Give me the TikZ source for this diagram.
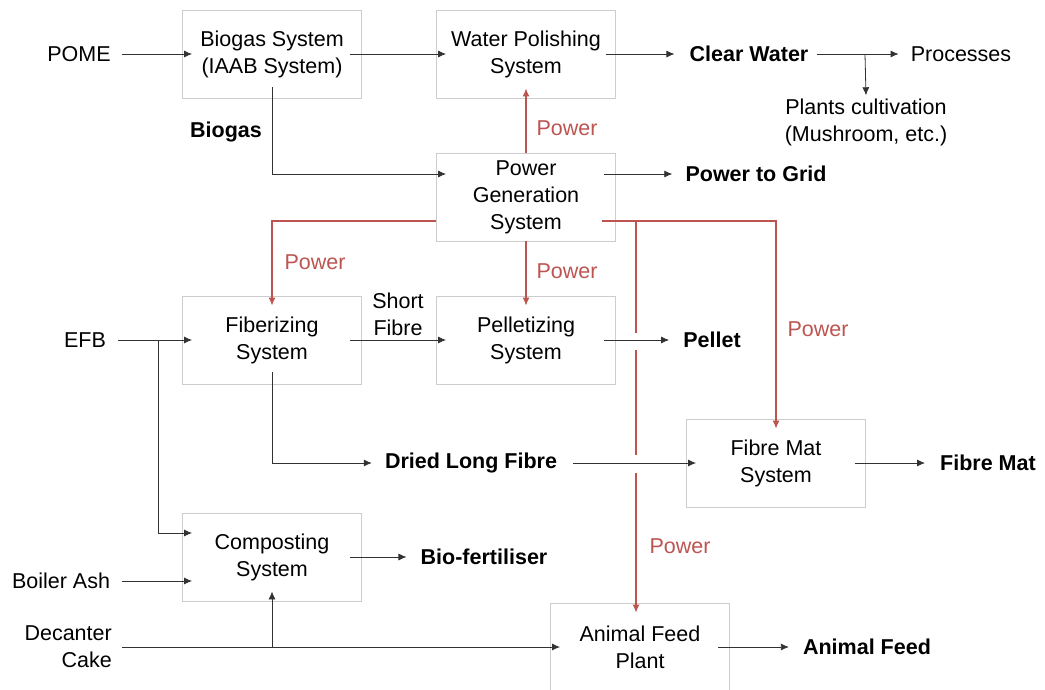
\documentclass[tikz,border=0pt]{standalone}
\usepackage{fontspec}
\setmainfont{Liberation Sans}
\usetikzlibrary{arrows.meta}
\definecolor{pwr}{RGB}{188,84,80}
\definecolor{boxc}{RGB}{205,205,205}
\definecolor{ln}{RGB}{50,50,50}
\begin{document}
\begin{tikzpicture}[x=1pt,y=-1pt,
  every node/.style={font=\fontsize{21.5}{27}\selectfont, align=center, inner sep=0pt},
  sys/.style={draw=boxc, line width=0.9pt, minimum width=179pt, minimum height=88pt},
  outl/.style={font=\fontsize{21.5}{27}\selectfont\bfseries},
  pwt/.style={text=pwr},
  flow/.style={draw=ln, line width=0.8pt, -{Latex[length=8pt,width=7pt]}},
  into/.style={shorten >=-10pt},
  pw/.style={draw=pwr, line width=1.1pt, -{Latex[length=8pt,width=7pt]}},
  pwl/.style={draw=pwr, line width=1.1pt}
]
\useasboundingbox (0,0) rectangle (1045,689);

% boxes
\node[sys] (bio)  at (272,54)  {Biogas System\\(IAAB System)};
\node[sys] (wp)   at (526,54)  {Water Polishing\\System};
\node[sys] (pg)   at (526,197) {Power\\Generation\\System};
\node[sys] (fib)  at (272,340) {Fiberizing\\System};
\node[sys] (pel)  at (526,340) {Pelletizing\\System};
\node[sys] (fm)   at (776,463) {Fibre Mat\\System};
\node[sys] (comp) at (272,557) {Composting\\System};
\node[sys] (af)   at (640,647) {Animal Feed\\Plant};

% texts
\node (pome) at (79,54) {POME};
\node[outl] (cw) at (749,54) {Clear Water};
\node (proc) at (961,54) {Processes};
\node (plants) at (866,122) {Plants cultivation\\(Mushroom, etc.)};
\node[outl] (biogasl) at (226,132) {Biogas};
\node[pwt] (p1) at (567,128) {Power};
\node[outl] (ptg) at (756,174) {Power to Grid};
\node[pwt] (p2) at (315,262) {Power};
\node[pwt] (p3) at (567,271) {Power};
\node[pwt] (p4) at (818,329) {Power};
\node[pwt] (p5) at (680,546) {Power};
\node (efb) at (85,340) {EFB};
\node (sf) at (398,314) {Short\\Fibre};
\node[outl] (pellet) at (712,340) {Pellet};
\node[outl] (dlf) at (471,463) {Dried Long Fibre};
\node[outl] (fmo) at (988,463) {Fibre Mat};
\node[outl] (biof) at (484,557) {Bio-fertiliser};
\node (ba) at (61,581) {Boiler Ash};
\node[align=right, anchor=east] (dc) at (112,647) {Decanter\\Cake};
\node[outl] (afo) at (867,647) {Animal Feed};

% junction coordinates
\coordinate (br1) at (865,54);
\coordinate (efbj) at (158,340);
\coordinate (dcj) at (272,647);
\coordinate (pj) at (636,221);
\coordinate (g1a) at (636,333);
\coordinate (g1b) at (636,350);
\coordinate (g2a) at (636,455);
\coordinate (g2b) at (636,473);

% red power lines
\draw[pw,into] (pg.north) -- (wp.south);
\draw[pw,into] ([yshift=-24pt]pg.west) -| (fib.north);
\draw[pw,into] (pg.south) -- (pel.north);
\draw[pw,into] ([xshift=-14pt,yshift=-24pt]pg.east) -| (fm.north);
\draw[pwl] (pj) -- (g1a);
\draw[pwl] (g1b) -- (g2a);
\draw[pw,into] (g2b) -- (g2b |- af.north);

% black flows
\draw[flow,into] ([xshift=11pt]pome.east) -- (bio.west);
\draw[flow,into] ([xshift=-12pt]bio.east) -- (wp.west);
\draw[flow] ([xshift=-10pt]wp.east) -- ([xshift=-15pt]cw.west);
\draw[flow] ([xshift=8pt]cw.east) -- ([xshift=-12pt]proc.west);
\draw[flow] (br1) -- ([yshift=3pt]plants.north);
\draw[flow,into] ([yshift=11pt]bio.south) |- ([yshift=23pt]pg.west);
\draw[flow] ([xshift=-12pt,yshift=23pt]pg.east) -- ([xshift=-13pt]ptg.west);
\draw[flow,into] ([xshift=12pt]efb.east) -- (fib.west);
\draw[flow,into] (efbj) |- ([yshift=24pt]comp.west);
\draw[flow,into] ([xshift=-12pt]fib.east) -- (pel.west);
\draw[flow] ([xshift=-12pt]pel.east) -- ([xshift=-14pt]pellet.west);
\draw[flow] ([yshift=12pt]fib.south) |- ([xshift=-13pt]dlf.west);
\draw[flow,into] ([xshift=16pt]dlf.east) -- (fm.west);
\draw[flow] ([xshift=-11pt]fm.east) -- ([xshift=-15pt]fmo.west);
\draw[flow] ([xshift=-12pt]comp.east) -- ([xshift=-14pt]biof.west);
\draw[flow,into] ([xshift=12pt]ba.east) -- ([yshift=-24pt]comp.west);
\draw[flow,into] ([xshift=10pt]dc.east) -- (af.west);
\draw[flow,into] (dcj) -- (comp.south);
\draw[flow] ([xshift=-12pt]af.east) -- ([xshift=-14pt]afo.west);
\end{tikzpicture}
\end{document}
